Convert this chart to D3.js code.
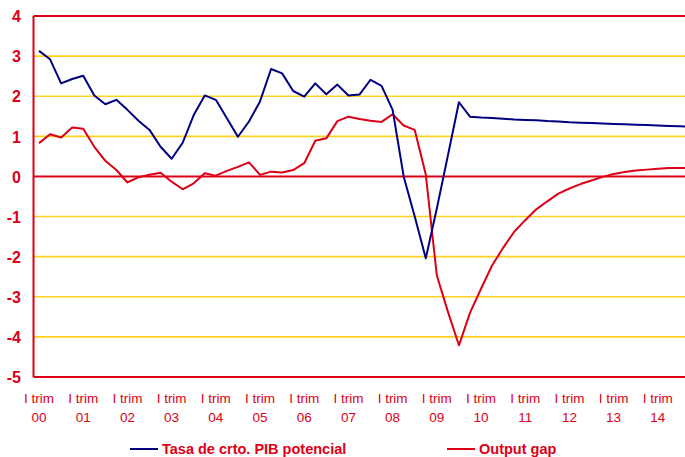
<!DOCTYPE html>
<html>
<head>
<meta charset="utf-8">
<script src="https://cdn.jsdelivr.net/npm/d3@7"></script>
<style>
  html, body { margin: 0; padding: 0; background: #ffffff; }
  svg { display: block; }
  text { font-family: "Liberation Sans", Arial, sans-serif; }
</style>
</head>
<body>
<svg id="chart" width="685" height="457"></svg>
<script>
// Quarterly series, 2000 Q1 – 2014 Q4
const years = ["00","01","02","03","04","05","06","07","08","09","10","11","12","13","14"];
const quarterLabel = "I trim";

const potentialGrowth = [
  3.13, 2.92, 2.32, 2.43, 2.51, 2.02, 1.80, 1.91,
  1.66, 1.39, 1.16, 0.74, 0.44, 0.84, 1.53, 2.02,
  1.91, 1.45, 0.99, 1.37, 1.87, 2.68, 2.57, 2.13,
  1.99, 2.32, 2.05, 2.29, 2.02, 2.04, 2.41, 2.26,
  1.66, 0.00, -1.00, -2.04, -0.80, 0.52, 1.85, 1.49,
  1.47, 1.46, 1.44, 1.42, 1.41, 1.40, 1.38, 1.37,
  1.35, 1.34, 1.33, 1.32, 1.31, 1.30, 1.29, 1.28,
  1.27, 1.26, 1.25, 1.24
];

const outputGap = [
  0.83, 1.05, 0.97, 1.22, 1.19, 0.74, 0.39, 0.16,
  -0.15, -0.02, 0.04, 0.09, -0.13, -0.32, -0.17, 0.08,
  0.02, 0.14, 0.24, 0.35, 0.04, 0.12, 0.10, 0.16,
  0.33, 0.89, 0.95, 1.38, 1.49, 1.43, 1.39, 1.36,
  1.55, 1.27, 1.16, 0.05, -2.47, -3.37, -4.21, -3.40,
  -2.80, -2.22, -1.78, -1.38, -1.09, -0.82, -0.62, -0.43,
  -0.30, -0.19, -0.10, -0.01, 0.06, 0.11, 0.15, 0.17,
  0.19, 0.21, 0.21, 0.21
];

const seriesNames = ["Tasa de crto. PIB potencial", "Output gap"];
const yTicks = [4, 3, 2, 1, 0, -1, -2, -3, -4, -5];

const RED = "#dd0016";
const NAVY = "#000080";
const GRID = "#ffd21f";

const svg = d3.select("#chart");

const plot = { left: 33.5, top: 16, right: 696.5, bottom: 377 };

const quarters = d3.range(potentialGrowth.length);
const x = d3.scalePoint()
  .domain(quarters)
  .range([plot.left, plot.right])
  .padding(0.5);

const y = d3.scaleLinear()
  .domain([-5, 4])
  .range([plot.bottom, plot.top]);

// horizontal gridlines
svg.append("g")
  .selectAll("line")
  .data(yTicks.filter(v => v !== 0 && v !== 4 && v !== -5))
  .join("line")
  .attr("x1", plot.left)
  .attr("x2", 685)
  .attr("y1", d => y(d))
  .attr("y2", d => y(d))
  .attr("stroke", GRID)
  .attr("stroke-width", 1.6);

// frame: top, bottom and left edges
const frame = svg.append("g").attr("stroke", RED).attr("stroke-width", 2).attr("fill", "none");
frame.append("line").attr("x1", plot.left).attr("x2", 685).attr("y1", y(4)).attr("y2", y(4));
frame.append("line").attr("x1", plot.left).attr("x2", 685).attr("y1", y(-5)).attr("y2", y(-5));
frame.append("line").attr("x1", plot.left).attr("x2", plot.left).attr("y1", y(4)).attr("y2", y(-5));

// zero line
svg.append("line")
  .attr("x1", plot.left).attr("x2", 685)
  .attr("y1", y(0)).attr("y2", y(0))
  .attr("stroke", RED).attr("stroke-width", 2);

// y axis labels
const yAxis = d3.axisLeft(y).tickValues(yTicks).tickSize(0).tickPadding(0)
  .tickFormat(d => d3.format("d")(d).replace("−", "-"));
const yG = svg.append("g").attr("transform", "translate(21,0)").call(yAxis);
yG.select(".domain").remove();
yG.selectAll("text")
  .attr("fill", RED)
  .attr("font-size", 16)
  .attr("font-weight", "bold")
  .attr("font-family", "'Liberation Sans', Arial, sans-serif")
  .attr("dy", "0.36em");

// x axis labels: first quarter of each year
const xG = svg.append("g");
const yearTicks = years.map((yr, k) => ({ yr, q: k * 4 }));
const lab = xG.selectAll("text")
  .data(yearTicks)
  .join("text")
  .attr("x", d => x(d.q))
  .attr("text-anchor", "middle")
  .attr("fill", RED)
  .attr("font-size", 13.5);
lab.append("tspan").attr("x", d => x(d.q)).attr("y", 403).text(quarterLabel);
lab.append("tspan").attr("x", d => x(d.q)).attr("y", 421.5).text(d => d.yr);

// series lines
const line = d3.line()
  .x((d, i) => x(i))
  .y(d => y(d));

svg.append("path")
  .datum(outputGap)
  .attr("d", line)
  .attr("fill", "none")
  .attr("stroke", RED)
  .attr("stroke-width", 2)
  .attr("stroke-linejoin", "round");

svg.append("path")
  .datum(potentialGrowth)
  .attr("d", line)
  .attr("fill", "none")
  .attr("stroke", NAVY)
  .attr("stroke-width", 2)
  .attr("stroke-linejoin", "round");

// legend
const legendItems = [
  { name: seriesNames[0], color: NAVY, x0: 130 },
  { name: seriesNames[1], color: RED, x0: 447 }
];
const lg = svg.append("g");
legendItems.forEach(it => {
  lg.append("line")
    .attr("x1", it.x0).attr("x2", it.x0 + 28)
    .attr("y1", 449).attr("y2", 449)
    .attr("stroke", it.color).attr("stroke-width", 2);
  lg.append("text")
    .attr("x", it.x0 + 32)
    .attr("y", 453.5)
    .attr("fill", RED)
    .attr("font-size", 14.5)
    .attr("font-weight", "bold")
    .text(it.name);
});
</script>
</body>
</html>
